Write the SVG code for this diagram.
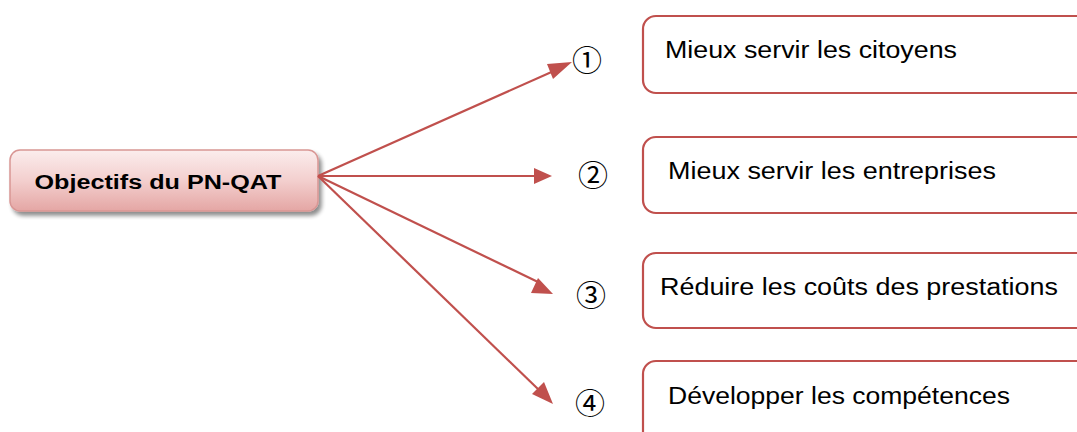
<svg xmlns="http://www.w3.org/2000/svg" width="1077" height="432" viewBox="0 0 1077 432">
<defs>
<linearGradient id="g" x1="0" y1="0" x2="0" y2="1">
<stop offset="0" stop-color="#FBEDED"/>
<stop offset="0.5" stop-color="#F3CFCE"/>
<stop offset="1" stop-color="#E4A6A4"/>
</linearGradient>
<filter id="sh" x="-10%" y="-20%" width="130%" height="160%">
<feGaussianBlur in="SourceAlpha" stdDeviation="2"/>
<feOffset dx="3" dy="4"/>
<feComponentTransfer><feFuncA type="linear" slope="0.45"/></feComponentTransfer>
<feMerge><feMergeNode/><feMergeNode in="SourceGraphic"/></feMerge>
</filter>
</defs>
<style>
.box{fill:#fff;stroke:#C0504D;stroke-width:2.2}
.lbl{font-family:"Liberation Sans",Arial,sans-serif;font-size:23px;fill:#000}
.num{font-family:"Noto Sans CJK SC","DejaVu Sans",sans-serif;font-size:30px;fill:#000}
.con{stroke:#C0504D;stroke-width:2.2;fill:none}
</style>
<g id="main">
<rect x="10" y="150" width="308" height="61" rx="10" fill="url(#g)" stroke="#D99694" stroke-width="1.5" filter="url(#sh)"/>
<text x="158" y="189" text-anchor="middle" font-family="Liberation Sans, Arial, sans-serif" font-weight="bold" font-size="20" textLength="247" lengthAdjust="spacingAndGlyphs">Objectifs du PN-QAT</text>
</g>
<g id="connectors">
<line class="con" x1="318" y1="176" x2="556" y2="70"/>
<path d="M572,62 L553,79 L547,64 z" fill="#C0504D"/>
<line class="con" x1="318" y1="176" x2="536" y2="176"/>
<path d="M552,176 L534,168 L534,184 z" fill="#C0504D"/>
<line class="con" x1="318" y1="176" x2="538" y2="282"/>
<path d="M553,294 L531,293 L538,278 z" fill="#C0504D"/>
<line class="con" x1="318" y1="176" x2="539" y2="390"/>
<path d="M553,404 L532,394 L544,382 z" fill="#C0504D"/>
</g>
<g id="n1">
<text class="num" x="587" y="71" text-anchor="middle">①</text>
<rect class="box" x="643" y="16" width="450" height="77" rx="13"/>
<text class="lbl" x="665" y="58" textLength="292" lengthAdjust="spacingAndGlyphs">Mieux servir les citoyens</text>
</g>
<g id="n2">
<text class="num" x="593" y="186" text-anchor="middle">②</text>
<rect class="box" x="643" y="137" width="450" height="76" rx="13"/>
<text class="lbl" x="668" y="179" textLength="328" lengthAdjust="spacingAndGlyphs">Mieux servir les entreprises</text>
</g>
<g id="n3">
<text class="num" x="591" y="306" text-anchor="middle">③</text>
<rect class="box" x="643" y="253" width="450" height="75" rx="13"/>
<text class="lbl" x="660" y="295" textLength="398" lengthAdjust="spacingAndGlyphs">Réduire les coûts des prestations</text>
</g>
<g id="n4">
<text class="num" x="590" y="414" text-anchor="middle">④</text>
<rect class="box" x="643" y="361" width="450" height="90" rx="13"/>
<text class="lbl" x="668" y="404" textLength="342" lengthAdjust="spacingAndGlyphs">Développer les compétences</text>
</g>
</svg>
